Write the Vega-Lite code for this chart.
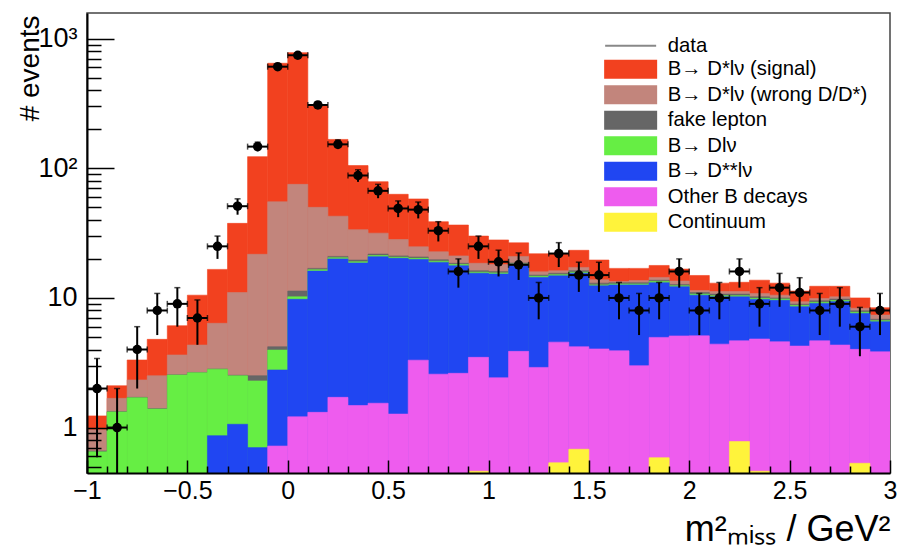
{
"$schema": "https://vega.github.io/schema/vega-lite/v6.json",
"width": 803, "height": 460,
"autosize": "none",
"padding": {"left": 87, "top": 13, "right": 8, "bottom": 79},
"background": "white",
"config": {"view": {"stroke": "#444444", "strokeWidth": 1.5}, "font": "Liberation Sans"},
"data": {"values": [
{"x0":-1.0,"x1":-0.9,"xc":-0.95,"n":2,"lo":0.59,"hi":3.41,"t1_signal":1.23,"t2_wrong":0.96,"t3_fake":0.66,"t4_dlnu":0.65},
{"x0":-0.9,"x1":-0.8,"xc":-0.85,"n":1,"lo":0.446,"hi":2,"t1_signal":2.10,"t2_wrong":1.68,"t3_fake":1.33,"t4_dlnu":1.32},
{"x0":-0.8,"x1":-0.7,"xc":-0.75,"n":4,"lo":2,"hi":6,"t1_signal":3.32,"t2_wrong":2.33,"t3_fake":1.71,"t4_dlnu":1.70},
{"x0":-0.7,"x1":-0.6,"xc":-0.65,"n":8,"lo":5.17,"hi":10.83,"t1_signal":4.79,"t2_wrong":2.51,"t3_fake":1.40,"t4_dlnu":1.39},
{"x0":-0.6,"x1":-0.5,"xc":-0.55,"n":9,"lo":6,"hi":12,"t1_signal":6.1,"t2_wrong":3.63,"t3_fake":2.55,"t4_dlnu":2.54},
{"x0":-0.5,"x1":-0.4,"xc":-0.45,"n":7,"lo":4.35,"hi":9.65,"t1_signal":10.5,"t2_wrong":4.33,"t3_fake":2.66,"t4_dlnu":2.65},
{"x0":-0.4,"x1":-0.3,"xc":-0.35,"n":25,"lo":20,"hi":30,"t1_signal":16.6,"t2_wrong":6.37,"t3_fake":2.83,"t4_dlnu":2.82,"t5_dss":0.865},
{"x0":-0.3,"x1":-0.2,"xc":-0.25,"n":51,"lo":43.86,"hi":58.14,"t1_signal":37.6,"t2_wrong":11.0,"t3_fake":2.53,"t4_dlnu":2.51,"t5_dss":1.06},
{"x0":-0.2,"x1":-0.1,"xc":-0.15,"n":147,"lo":134.9,"hi":159.1,"t1_signal":123,"t2_wrong":21.7,"t3_fake":2.51,"t4_dlnu":2.29,"t5_dss":0.70},
{"x0":-0.1,"x1":0.0,"xc":-0.05,"n":608,"lo":583.3,"hi":632.7,"t1_signal":646,"t2_wrong":55.2,"t3_fake":4.2,"t4_dlnu":3.96,"t5_dss":2.78,"t6_other":0.72},
{"x0":0.0,"x1":0.1,"xc":0.05,"n":745,"lo":717.7,"hi":772.3,"t1_signal":780,"t2_wrong":75.2,"t3_fake":11.3,"t4_dlnu":10.2,"t5_dss":9.76,"t6_other":1.21},
{"x0":0.1,"x1":0.2,"xc":0.15,"n":308,"lo":290.5,"hi":325.5,"t1_signal":303,"t2_wrong":50,"t3_fake":16.9,"t4_dlnu":16.5,"t5_dss":16.1,"t6_other":1.31},
{"x0":0.2,"x1":0.3,"xc":0.25,"n":153,"lo":140.6,"hi":165.4,"t1_signal":167,"t2_wrong":42.7,"t3_fake":20.9,"t4_dlnu":20.4,"t5_dss":20.0,"t6_other":1.71},
{"x0":0.3,"x1":0.4,"xc":0.35,"n":88,"lo":78.6,"hi":97.4,"t1_signal":105,"t2_wrong":33.6,"t3_fake":19.6,"t4_dlnu":19.0,"t5_dss":18.6,"t6_other":1.48},
{"x0":0.4,"x1":0.5,"xc":0.45,"n":67,"lo":58.8,"hi":75.2,"t1_signal":78.8,"t2_wrong":31.6,"t3_fake":21.8,"t4_dlnu":21.2,"t5_dss":20.8,"t6_other":1.54},
{"x0":0.5,"x1":0.6,"xc":0.55,"n":49,"lo":42,"hi":56,"t1_signal":63,"t2_wrong":28.2,"t3_fake":21.1,"t4_dlnu":20.6,"t5_dss":20.2,"t6_other":1.27},
{"x0":0.6,"x1":0.7,"xc":0.65,"n":48,"lo":41.07,"hi":54.93,"t1_signal":58,"t2_wrong":24.8,"t3_fake":20.7,"t4_dlnu":20.2,"t5_dss":19.8,"t6_other":3.31},
{"x0":0.7,"x1":0.8,"xc":0.75,"n":33,"lo":27.26,"hi":38.74,"t1_signal":38.7,"t2_wrong":22.7,"t3_fake":19.7,"t4_dlnu":19.2,"t5_dss":18.8,"t6_other":2.58},
{"x0":0.8,"x1":0.9,"xc":0.85,"n":16,"lo":12,"hi":20,"t1_signal":36.5,"t2_wrong":21.1,"t3_fake":18.5,"t4_dlnu":18.1,"t5_dss":17.7,"t6_other":2.62},
{"x0":0.9,"x1":1.0,"xc":0.95,"n":25,"lo":20,"hi":30,"t1_signal":30.0,"t2_wrong":18.5,"t3_fake":16.2,"t4_dlnu":15.8,"t5_dss":15.5,"t6_other":3.48,"t7_cont":0.46},
{"x0":1.0,"x1":1.1,"xc":1.05,"n":19,"lo":14.64,"hi":23.36,"t1_signal":28.0,"t2_wrong":18.1,"t3_fake":16.0,"t4_dlnu":15.6,"t5_dss":15.3,"t6_other":2.42},
{"x0":1.1,"x1":1.2,"xc":1.15,"n":18,"lo":13.76,"hi":22.24,"t1_signal":26.6,"t2_wrong":20.9,"t3_fake":18.6,"t4_dlnu":18.2,"t5_dss":17.8,"t6_other":3.87},
{"x0":1.2,"x1":1.3,"xc":1.25,"n":10,"lo":6.84,"hi":13.16,"t1_signal":21.9,"t2_wrong":15.9,"t3_fake":15.0,"t4_dlnu":14.7,"t5_dss":14.4,"t6_other":2.91},
{"x0":1.3,"x1":1.4,"xc":1.35,"n":22,"lo":17.31,"hi":26.69,"t1_signal":21.9,"t2_wrong":16.2,"t3_fake":15.5,"t4_dlnu":15.1,"t5_dss":14.8,"t6_other":4.56,"t7_cont":0.535},
{"x0":1.4,"x1":1.5,"xc":1.45,"n":15,"lo":11.13,"hi":18.87,"t1_signal":23.3,"t2_wrong":17.2,"t3_fake":16.2,"t4_dlnu":15.8,"t5_dss":15.5,"t6_other":4.20,"t7_cont":0.68},
{"x0":1.5,"x1":1.6,"xc":1.55,"n":15,"lo":11.13,"hi":18.87,"t1_signal":19.6,"t2_wrong":13.8,"t3_fake":13.0,"t4_dlnu":12.6,"t5_dss":12.4,"t6_other":4.04},
{"x0":1.6,"x1":1.7,"xc":1.65,"n":10,"lo":6.84,"hi":13.16,"t1_signal":16.9,"t2_wrong":13.4,"t3_fake":13.1,"t4_dlnu":12.8,"t5_dss":12.6,"t6_other":3.91},
{"x0":1.7,"x1":1.8,"xc":1.75,"n":8,"lo":5.17,"hi":10.83,"t1_signal":16.9,"t2_wrong":13.6,"t3_fake":13.1,"t4_dlnu":12.8,"t5_dss":12.6,"t6_other":3.0},
{"x0":1.8,"x1":1.9,"xc":1.85,"n":10,"lo":6.84,"hi":13.16,"t1_signal":17.8,"t2_wrong":14.4,"t3_fake":13.7,"t4_dlnu":13.4,"t5_dss":13.1,"t6_other":4.96,"t7_cont":0.585},
{"x0":1.9,"x1":2.0,"xc":1.95,"n":16,"lo":12,"hi":20,"t1_signal":16.7,"t2_wrong":13.5,"t3_fake":12.7,"t4_dlnu":12.4,"t5_dss":12.2,"t6_other":5.09},
{"x0":2.0,"x1":2.1,"xc":2.05,"n":8,"lo":5.17,"hi":10.83,"t1_signal":14.9,"t2_wrong":11.4,"t3_fake":11.0,"t4_dlnu":10.7,"t5_dss":10.5,"t6_other":5.1},
{"x0":2.1,"x1":2.2,"xc":2.15,"n":10,"lo":6.84,"hi":13.16,"t1_signal":13.0,"t2_wrong":11.2,"t3_fake":10.7,"t4_dlnu":10.4,"t5_dss":10.2,"t6_other":4.4},
{"x0":2.2,"x1":2.3,"xc":2.25,"n":16,"lo":12,"hi":20,"t1_signal":13.2,"t2_wrong":11.2,"t3_fake":10.7,"t4_dlnu":10.4,"t5_dss":10.2,"t6_other":4.67,"t7_cont":0.78},
{"x0":2.3,"x1":2.4,"xc":2.35,"n":9,"lo":6,"hi":12,"t1_signal":13.7,"t2_wrong":10.8,"t3_fake":10.2,"t4_dlnu":9.93,"t5_dss":9.74,"t6_other":4.82,"t7_cont":0.46},
{"x0":2.4,"x1":2.5,"xc":2.45,"n":12,"lo":8.54,"hi":15.46,"t1_signal":13.0,"t2_wrong":10.5,"t3_fake":10.0,"t4_dlnu":9.8,"t5_dss":9.6,"t6_other":4.59},
{"x0":2.5,"x1":2.6,"xc":2.55,"n":11,"lo":7.68,"hi":14.32,"t1_signal":11.3,"t2_wrong":9.36,"t3_fake":8.95,"t4_dlnu":8.73,"t5_dss":8.56,"t6_other":4.25},
{"x0":2.6,"x1":2.7,"xc":2.65,"n":8,"lo":5.17,"hi":10.83,"t1_signal":12.3,"t2_wrong":9.9,"t3_fake":9.5,"t4_dlnu":9.25,"t5_dss":9.07,"t6_other":4.67},
{"x0":2.7,"x1":2.8,"xc":2.75,"n":9,"lo":6,"hi":12,"t1_signal":12.3,"t2_wrong":10.2,"t3_fake":9.8,"t4_dlnu":9.55,"t5_dss":9.36,"t6_other":4.33},
{"x0":2.8,"x1":2.9,"xc":2.85,"n":6,"lo":3.55,"hi":8.45,"t1_signal":10.0,"t2_wrong":8.33,"t3_fake":7.95,"t4_dlnu":7.75,"t5_dss":7.59,"t6_other":4.01,"t7_cont":0.53},
{"x0":2.9,"x1":3.0,"xc":2.95,"n":8,"lo":5.17,"hi":10.83,"t1_signal":8.4,"t2_wrong":7.37,"t3_fake":6.85,"t4_dlnu":6.68,"t5_dss":6.55,"t6_other":3.84}
]},
"layer": [
{
"transform": [
{"fold": ["t1_signal","t2_wrong","t3_fake","t4_dlnu","t5_dss","t6_other","t7_cont"], "as": ["series","top"]},
{"filter": "isValid(datum.top) && datum.top > 0"}
],
"mark": {"type": "bar", "strokeWidth": 0.6, "clip": true},
"encoding": {
"x": {"field": "x0", "type": "quantitative", "title": "m²ₘᵢₛₛ / GeV²", "scale": {"domain": [-1, 3], "nice": false, "zero": false},
"axis": {"tickCount": 40, "format": "~g", "grid": false, "zindex": 1,
"labelExpr": "abs(datum.value*2 - round(datum.value*2)) < 1e-6 ? datum.label : ''",
"tickSize": {"condition": {"test": "abs(datum.value*2 - round(datum.value*2)) < 1e-6", "value": -13}, "value": -7},
"tickColor": "#000000", "tickWidth": 1.5, "domainColor": "#000000", "domainWidth": 2,
"labelFont": "Liberation Sans", "labelFontSize": 25, "labelColor": "#000000", "labelPadding": 18, "labelOverlap": false, "labelFlush": false,
"titleFont": "Liberation Sans", "titleFontSize": 36, "titleFontWeight": "normal", "titleColor": "#000000",
"titleAnchor": "end", "titleAlign": "right", "titleX": 803, "titleY": 67, "titleBaseline": "alphabetic"}},
"x2": {"field": "x1"},
"y": {"field": "top", "type": "quantitative", "title": "# events", "scale": {"type": "log", "domain": [0.446, 1578], "nice": false},
"axis": {"grid": false, "zindex": 1,
"labelExpr": "abs(datum.value-1)<1e-9 ? '1' : abs(datum.value-10)<1e-9 ? '10' : abs(datum.value-100)<1e-9 ? '10²' : abs(datum.value-1000)<1e-9 ? '10³' : ''",
"tickSize": {"condition": {"test": "abs(log(datum.value)/LN10 - round(log(datum.value)/LN10)) < 1e-6", "value": -27}, "value": -14},
"tickColor": "#000000", "tickWidth": 1.5, "domainColor": "#000000", "domainWidth": 2,
"labelFont": "Liberation Sans", "labelFontSize": 27, "labelColor": "#000000", "labelPadding": 37, "labelOverlap": false,
"titleFont": "Liberation Sans", "titleFontSize": 28, "titleFontWeight": "normal", "titleColor": "#000000",
"titleX": -57, "titleY": 2, "titleAlign": "right", "titleBaseline": "middle", "titleAngle": -90}},
"y2": {"datum": 0.446},
"order": {"field": "series", "sort": "ascending"},
"color": {"field": "series", "type": "nominal",
"scale": {"domain": ["t0_data","t1_signal","t2_wrong","t3_fake","t4_dlnu","t5_dss","t6_other","t7_cont"], "range": ["#888888","#F2411F","#C2857C","#666666","#66EE44","#2046F2","#EE5CEE","#FFF33B"]},
"legend": {"orient": "none", "legendX": 533.5, "legendY": 22.5, "title": null, "padding": 0,
"symbolSize": 289, "rowPadding": -0.5, "labelOffset": 27, "labelFont": "Liberation Sans", "labelFontSize": 20.3, "labelColor": "#000000", "labelLimit": 400,
"labelExpr": "datum.value === 't0_data' ? 'data' : datum.value === 't1_signal' ? 'B→ D*lν (signal)' : datum.value === 't2_wrong' ? 'B→ D*lν (wrong D/D*)' : datum.value === 't3_fake' ? 'fake lepton' : datum.value === 't4_dlnu' ? 'B→ Dlν' : datum.value === 't5_dss' ? 'B→ D**lν' : datum.value === 't6_other' ? 'Other B decays' : 'Continuum'",
"encode": {"symbols": {"update": {
"shape": {"signal": "datum.value === 't0_data' ? 'M-3,0H3' : 'M-3,-1H3V1H-3Z'"},
"stroke": {"signal": "datum.value === 't0_data' ? '#888888' : 'transparent'"},
"strokeWidth": {"value": 2}, "opacity": {"value": 1}, "fillOpacity": {"value": 1}}}}}},
"stroke": {"field": "series", "type": "nominal",
"scale": {"domain": ["t0_data","t1_signal","t2_wrong","t3_fake","t4_dlnu","t5_dss","t6_other","t7_cont"], "range": ["#888888","#F2411F","#C2857C","#666666","#66EE44","#2046F2","#EE5CEE","#FFF33B"]},
"legend": null}
}
},
{
"mark": {"type": "rule", "color": "#000000", "strokeWidth": 2, "clip": true},
"encoding": {"x": {"field": "xc", "type": "quantitative", "title": "m²ₘᵢₛₛ / GeV²"}, "y": {"field": "lo", "type": "quantitative", "title": "# events"}, "y2": {"field": "hi"}}
},
{
"mark": {"type": "rule", "color": "#000000", "strokeWidth": 2, "clip": true},
"encoding": {"x": {"field": "x0", "type": "quantitative", "title": "m²ₘᵢₛₛ / GeV²"}, "x2": {"field": "x1"}, "y": {"field": "n", "type": "quantitative", "title": "# events"}}
},
{
"mark": {"type": "tick", "orient": "horizontal", "color": "#000000", "size": 6, "thickness": 1.5, "clip": true},
"encoding": {"x": {"field": "xc", "type": "quantitative", "title": "m²ₘᵢₛₛ / GeV²"}, "y": {"field": "hi", "type": "quantitative", "title": "# events"}}
},
{
"mark": {"type": "tick", "orient": "vertical", "color": "#000000", "size": 6, "thickness": 1.5, "clip": true},
"encoding": {"x": {"field": "x0", "type": "quantitative", "title": "m²ₘᵢₛₛ / GeV²"}, "y": {"field": "n", "type": "quantitative", "title": "# events"}}
},
{
"mark": {"type": "tick", "orient": "vertical", "color": "#000000", "size": 6, "thickness": 1.5, "clip": true},
"encoding": {"x": {"field": "x1", "type": "quantitative", "title": "m²ₘᵢₛₛ / GeV²"}, "y": {"field": "n", "type": "quantitative", "title": "# events"}}
},
{
"mark": {"type": "point", "filled": true, "color": "#000000", "size": 90, "opacity": 1},
"encoding": {"x": {"field": "xc", "type": "quantitative", "title": "m²ₘᵢₛₛ / GeV²"}, "y": {"field": "n", "type": "quantitative", "title": "# events"}}
}
]
}
